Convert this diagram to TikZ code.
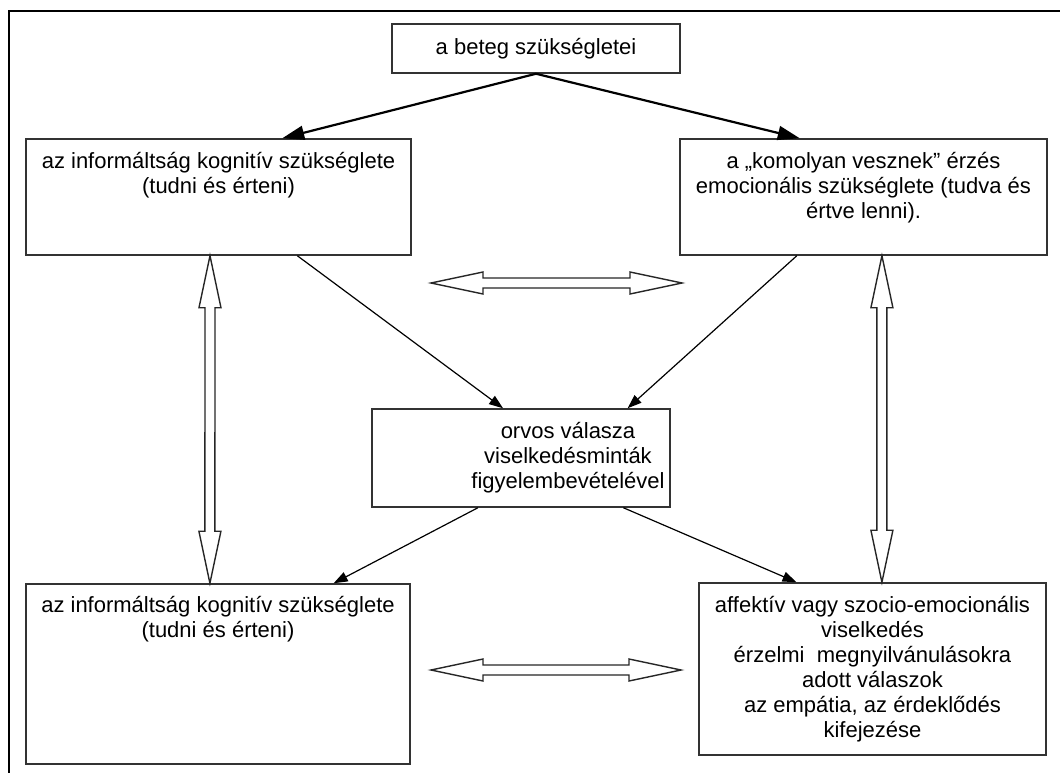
\documentclass[tikz,border=0pt]{standalone}
\usepackage{fontspec}
\setmainfont{Liberation Sans}
\usetikzlibrary{positioning,calc,arrows.meta}

% sizes of the hollow two-way arrows
\newcommand{\arrhead}{52pt}
\newcommand{\arrwide}{11pt}
\newcommand{\arrshaft}{5pt}
\newcommand{\dblarrow}[2]{%
  \draw[hollow] (#1)
    -- ($(#1)!\arrhead!(#2)!\arrwide!90:(#2)$)
    -- ($(#1)!\arrhead!(#2)!\arrshaft!90:(#2)$)
    -- ($(#2)!\arrhead!(#1)!\arrshaft!-90:(#1)$)
    -- ($(#2)!\arrhead!(#1)!\arrwide!-90:(#1)$)
    -- (#2)
    -- ($(#2)!\arrhead!(#1)!\arrwide!90:(#1)$)
    -- ($(#2)!\arrhead!(#1)!\arrshaft!90:(#1)$)
    -- ($(#1)!\arrhead!(#2)!\arrshaft!-90:(#2)$)
    -- ($(#1)!\arrhead!(#2)!\arrwide!-90:(#2)$)
    -- cycle;}

\begin{document}
\begin{tikzpicture}[
    x=1pt, y=-1pt,
    box/.style={rectangle, draw=black!80, line width=1.5pt, inner sep=0pt},
    txt/.style={align=center, inner sep=0pt, font=\fontsize{22}{25}\selectfont},
    bigarrow/.style={draw, line width=2.2pt, -{Triangle[length=22pt,width=14pt]}},
    thinarrow/.style={draw, line width=1.2pt, -{Triangle[length=14pt,width=10pt]}},
    hollow/.style={draw=black!85, line width=1.4pt, fill=white, line join=miter}
]
\useasboundingbox (0,0) rectangle (1060,773);

% Frame (only top and left edge visible)
\draw[line width=2.5pt] (9,773) -- (9,11) -- (1060,11);

% Boxes
\node[box, txt, minimum width=288pt, minimum height=49pt] (needs) at (536,48.5) {a beteg szükségletei};
\node[box, minimum width=385pt, minimum height=116pt] (cogtop) at (218.5,197) {};
\node[box, minimum width=367pt, minimum height=116pt] (emotop) at (863.5,197) {};
\node[box, minimum width=298pt, minimum height=98pt] (doctor) at (521,458) {};
\node[box, minimum width=384pt, minimum height=180pt] (cogbot) at (218,674) {};
\node[box, minimum width=347pt, minimum height=172pt] (affbot) at (872.5,669) {};

% Texts
\node[txt, below=14pt of cogtop.north] (cogtoptxt) {az informáltság kognitív szükséglete\\(tudni és érteni)};
\node[txt, below=14pt of emotop.north] (emotoptxt) {a „komolyan vesznek” érzés\\emocionális szükséglete (tudva és\\értve lenni).};
\node[txt, below=14pt of doctor.north, xshift=47pt] (doctortxt) {orvos válasza\\viselkedésminták\\figyelembevételével};
\node[txt, below=13pt of cogbot.north] (cogbottxt) {az informáltság kognitív szükséglete\\(tudni és érteni)};
\node[txt, below=14pt of affbot.north] (affbottxt) {affektív vagy szocio-emocionális\\viselkedés\\érzelmi\ \ megnyilvánulásokra\\adott válaszok\\ az empátia, az érdeklődés\\kifejezése};

% Arrows from the top
\draw[bigarrow] (needs.south) -- ($(cogtop.north west)!0.665!(cogtop.north east)$);
\draw[bigarrow] (needs.south) -- ($(emotop.north west)!0.327!(emotop.north east)$);

% Arrows through the middle box
\draw[thinarrow] ($(cogtop.south west)!0.704!(cogtop.south east)$) -- ($(doctor.north west)!0.44!(doctor.north east)$);
\draw[thinarrow] ($(emotop.south west)!0.319!(emotop.south east)$) -- ($(doctor.north west)!0.856!(doctor.north east)$);
\draw[thinarrow] ($(doctor.south west)!0.356!(doctor.south east)$) -- ($(cogbot.north west)!0.8!(cogbot.north east)$);
\draw[thinarrow] ($(doctor.south west)!0.842!(doctor.south east)$) -- ($(affbot.north west)!0.282!(affbot.north east)$);

% Two-way arrows
\coordinate (lup) at ($(cogtop.south west)!0.478!(cogtop.south east)$);
\coordinate (ldown) at ($(cogbot.north west)!0.479!(cogbot.north east)$);
\coordinate (rup) at ($(emotop.south west)!0.55!(emotop.south east)$);
\coordinate (rdown) at ($(affbot.north west)!0.527!(affbot.north east)$);
\coordinate (topl) at (431,283);
\coordinate (topr) at (682,283);
\coordinate (botl) at (431,670);
\coordinate (botr) at (681,670);

\dblarrow{lup}{ldown}
\dblarrow{rup}{rdown}
\dblarrow{topl}{topr}
\dblarrow{botl}{botr}

\end{tikzpicture}
\end{document}
